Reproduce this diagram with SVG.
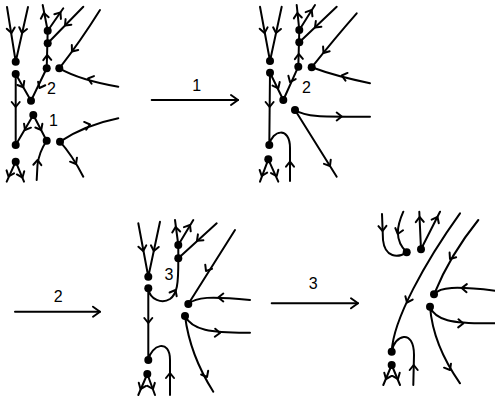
<svg xmlns="http://www.w3.org/2000/svg" width="495" height="402" viewBox="0 0 495 402">
<style>
.l{fill:none;stroke:#000;stroke-width:2;stroke-linecap:round;stroke-linejoin:round}
.d{fill:#000}
.t{font-family:"Liberation Sans",Arial,sans-serif;font-size:16px;fill:#000}
</style>
<defs>
<path id="a" class="l" d="M-5,-4 L0,0 L-5,4"/>
<path id="e" class="l" d="M-7,-5 L0,0 L-7,5"/>
</defs>
<rect width="495" height="402" fill="#fff"/>

<g id="panel1">
<path class="l" d="M7,7 L15.7,61.7 M28,7 L15.7,61.7 M15.7,74 L15.7,145 M15.7,74 L31,100.7 M46.7,68.3 L31,100.7 M47.7,30.7 L46.7,68.3 M47.7,30.7 L42.7,5 M47.7,30.7 L63.3,8.3 M83.3,6.7 L47.7,43.3 M59.3,68.3 Q80,42 100,10 M59.3,68.3 Q80,80 118.3,86.7 M33.3,115 L15.7,145 M33.3,115 L46.7,140.7 M60,141.7 Q85,125 118.3,118.3 M60,141.7 Q72,155 83.3,176.7 M36.7,180 L37.5,165 Q39,152 46.7,140.7 M15.7,161.7 L6.7,181.7 M15.7,161.7 L24,181.7"/>
<use href="#a" transform="translate(11.5,33) rotate(81)"/>
<use href="#a" transform="translate(22,33) rotate(103)"/>
<use href="#a" transform="translate(15.7,107) rotate(90)"/>
<use href="#a" transform="translate(23.3,87.3) rotate(60)"/>
<use href="#a" transform="translate(39.5,88) rotate(116)"/>
<use href="#a" transform="translate(47.1,55) rotate(-92)"/>
<use href="#a" transform="translate(43.8,13) rotate(-101)"/>
<use href="#a" transform="translate(60.5,12.5) rotate(-55)"/>
<use href="#a" transform="translate(65,25.5) rotate(134)"/>
<use href="#a" transform="translate(72,51.5) rotate(127)"/>
<use href="#a" transform="translate(88,78.5) rotate(197)"/>
<use href="#a" transform="translate(25,130) rotate(120)"/>
<use href="#a" transform="translate(41.2,130) rotate(62)"/>
<use href="#a" transform="translate(90,124.5) rotate(-15)"/>
<use href="#a" transform="translate(76,164) rotate(60)"/>
<use href="#a" transform="translate(37.6,160) rotate(-87)"/>
<use href="#a" transform="translate(8.5,176.5) rotate(111)"/>
<use href="#a" transform="translate(22.5,177.5) rotate(67)"/>
<circle class="d" cx="15.7" cy="61.7" r="4"/>
<circle class="d" cx="15.7" cy="74" r="4"/>
<circle class="d" cx="47.7" cy="30.7" r="4"/>
<circle class="d" cx="47.7" cy="43.3" r="4"/>
<circle class="d" cx="46.7" cy="68.3" r="4"/>
<circle class="d" cx="59.3" cy="68.3" r="4"/>
<circle class="d" cx="31" cy="100.7" r="4"/>
<circle class="d" cx="33.3" cy="115" r="4"/>
<circle class="d" cx="15.7" cy="145" r="4"/>
<circle class="d" cx="46.7" cy="140.7" r="4"/>
<circle class="d" cx="60" cy="141.7" r="4"/>
<circle class="d" cx="15.7" cy="161.7" r="4"/>
<text class="t" x="47" y="94">2</text>
<text class="t" x="49" y="126">1</text>
</g>

<g id="panel2">
<path class="l" d="M260,6.7 L270,61 M281.7,6.7 L270,61 M270,72.7 L269.3,145 M270,72.7 L283.3,100 M298.3,66.7 L283.3,100 M299.3,30 L298.3,66.7 M299.3,30 L296.7,5 M299.3,30 L315,5 M336.7,6.7 L299.3,42.3 M311.7,67.3 Q335,38 356.7,13.3 M311.7,67.3 Q335,76 370,83.3 M295,110 C305,117 320,117 370,116.7 M295,110 L336.7,176.7 M269.3,145 C272,130 290,126 290,148 L290,181 M268.3,159.3 L260,181.7 M268.3,159.3 L278.3,181.7"/>
<use href="#a" transform="translate(264.5,33) rotate(80)"/>
<use href="#a" transform="translate(276,33) rotate(102)"/>
<use href="#a" transform="translate(269.6,107) rotate(90)"/>
<use href="#a" transform="translate(278.3,88.3) rotate(64)"/>
<use href="#a" transform="translate(290,82) rotate(114)"/>
<use href="#a" transform="translate(298.7,54) rotate(-92)"/>
<use href="#a" transform="translate(297.3,13) rotate(-96)"/>
<use href="#a" transform="translate(311.7,10) rotate(-58)"/>
<use href="#a" transform="translate(315,27.4) rotate(136)"/>
<use href="#a" transform="translate(323.5,53) rotate(125)"/>
<use href="#a" transform="translate(341.7,75.5) rotate(195)"/>
<use href="#a" transform="translate(341.7,116.5) rotate(0)"/>
<use href="#a" transform="translate(330,166) rotate(58)"/>
<use href="#a" transform="translate(290,161.7) rotate(-90)"/>
<use href="#a" transform="translate(261.7,176) rotate(110)"/>
<use href="#a" transform="translate(276.7,176) rotate(66)"/>
<circle class="d" cx="270" cy="61" r="4"/>
<circle class="d" cx="270" cy="72.7" r="4"/>
<circle class="d" cx="299.3" cy="30" r="4"/>
<circle class="d" cx="299.3" cy="42.3" r="4"/>
<circle class="d" cx="298.3" cy="66.7" r="4"/>
<circle class="d" cx="311.7" cy="67.3" r="4"/>
<circle class="d" cx="283.3" cy="100" r="4"/>
<circle class="d" cx="295" cy="110" r="4"/>
<circle class="d" cx="269.3" cy="145" r="4"/>
<circle class="d" cx="268.3" cy="159.3" r="4"/>
<text class="t" x="302" y="93">2</text>
</g>

<g id="panel3">
<path class="l" d="M138.3,223.3 L148.3,276.7 M160,221.7 L148.3,276.7 M148.3,288.3 L148.3,360 M148.3,288.3 C150,300 162,304 170,299 C177,294 178.5,285 178.3,258.3 M178.3,245 L178.3,258.3 M178.3,245 L175,220 M178.3,245 L193.3,220 M216.7,223.3 L178.3,258.3 M235,230 L188.3,304 M188.3,304 C196,297 210,296 250,300 M185,316 C192,330 210,333 250,332.7 M185,316 Q190,355 213.3,391.7 M148.3,360 C151,345 170,338 170,360 L170,395 M147.3,374 L138.3,395 M147.3,374 L155,395"/>
<use href="#a" transform="translate(143.2,251) rotate(80)"/>
<use href="#a" transform="translate(153.8,251) rotate(102)"/>
<use href="#a" transform="translate(148.3,323) rotate(90)"/>
<use href="#a" transform="translate(175.5,290) rotate(-62)"/>
<use href="#a" transform="translate(175.6,227) rotate(-97)"/>
<use href="#a" transform="translate(190,225) rotate(-58)"/>
<use href="#a" transform="translate(197,240.7) rotate(137)"/>
<use href="#a" transform="translate(206,271) rotate(122)"/>
<use href="#a" transform="translate(218.3,297.5) rotate(180)"/>
<use href="#a" transform="translate(220,333) rotate(3)"/>
<use href="#a" transform="translate(207,377) rotate(62)"/>
<use href="#a" transform="translate(170,373) rotate(-90)"/>
<use href="#a" transform="translate(140.5,389) rotate(113)"/>
<use href="#a" transform="translate(153,389) rotate(68)"/>
<circle class="d" cx="148.3" cy="276.7" r="4"/>
<circle class="d" cx="148.3" cy="288.3" r="4"/>
<circle class="d" cx="178.3" cy="245" r="4"/>
<circle class="d" cx="178.3" cy="258.3" r="4"/>
<circle class="d" cx="188.3" cy="304" r="4"/>
<circle class="d" cx="185" cy="316" r="4"/>
<circle class="d" cx="148.3" cy="360" r="4"/>
<circle class="d" cx="147.3" cy="374" r="4"/>
<text class="t" x="164.5" y="280">3</text>
</g>

<g id="panel4">
<path class="l" d="M382,214 L383,240 C385,258 398,258 406.7,252.3 M403.3,211.7 C397,226 394,240 406.7,252.3 M421,249.3 L419.3,211.7 M421,249.3 L440,211.7 M460,213.3 C425,262 393,320 391.7,351.7 M391.7,351.7 C394,335 414,328 414,355 L413.3,385 M478.3,220 Q450,255 434,294.3 M434,294.3 C440,287 455,286 495,290.7 M430,306.7 C435,320 450,324 495,323.3 M430,306.7 Q433,345 460,383.3 M391.7,365 L383.3,385 M391.7,365 L400,385"/>
<use href="#a" transform="translate(382.6,231) rotate(88)"/>
<use href="#a" transform="translate(397.8,234) rotate(106)"/>
<use href="#a" transform="translate(419.6,217) rotate(-92)"/>
<use href="#a" transform="translate(437.5,217) rotate(-63)"/>
<use href="#a" transform="translate(407,302.5) rotate(114)"/>
<use href="#a" transform="translate(413.7,365) rotate(-90)"/>
<use href="#a" transform="translate(450,259) rotate(125)"/>
<use href="#a" transform="translate(461.7,288) rotate(182)"/>
<use href="#a" transform="translate(463.3,323.5) rotate(2)"/>
<use href="#a" transform="translate(450,370) rotate(60)"/>
<use href="#a" transform="translate(386,379) rotate(113)"/>
<use href="#a" transform="translate(398,379) rotate(67)"/>
<circle class="d" cx="406.7" cy="252.3" r="4"/>
<circle class="d" cx="421" cy="249.3" r="4"/>
<circle class="d" cx="434" cy="294.3" r="4"/>
<circle class="d" cx="430" cy="306.7" r="4"/>
<circle class="d" cx="391.7" cy="351.7" r="4"/>
<circle class="d" cx="391.7" cy="365" r="4"/>
</g>

<g id="connectors">
<path class="l" d="M151.7,100 L238,100 M15,311.7 L100,311.7 M271.7,303.3 L358,303.3"/>
<use href="#e" transform="translate(238,100)"/>
<use href="#e" transform="translate(100,311.7)"/>
<use href="#e" transform="translate(358,303.3)"/>
<text class="t" x="196.7" y="91" text-anchor="middle">1</text>
<text class="t" x="58.3" y="302" text-anchor="middle">2</text>
<text class="t" x="313.3" y="289" text-anchor="middle">3</text>
</g>
</svg>
